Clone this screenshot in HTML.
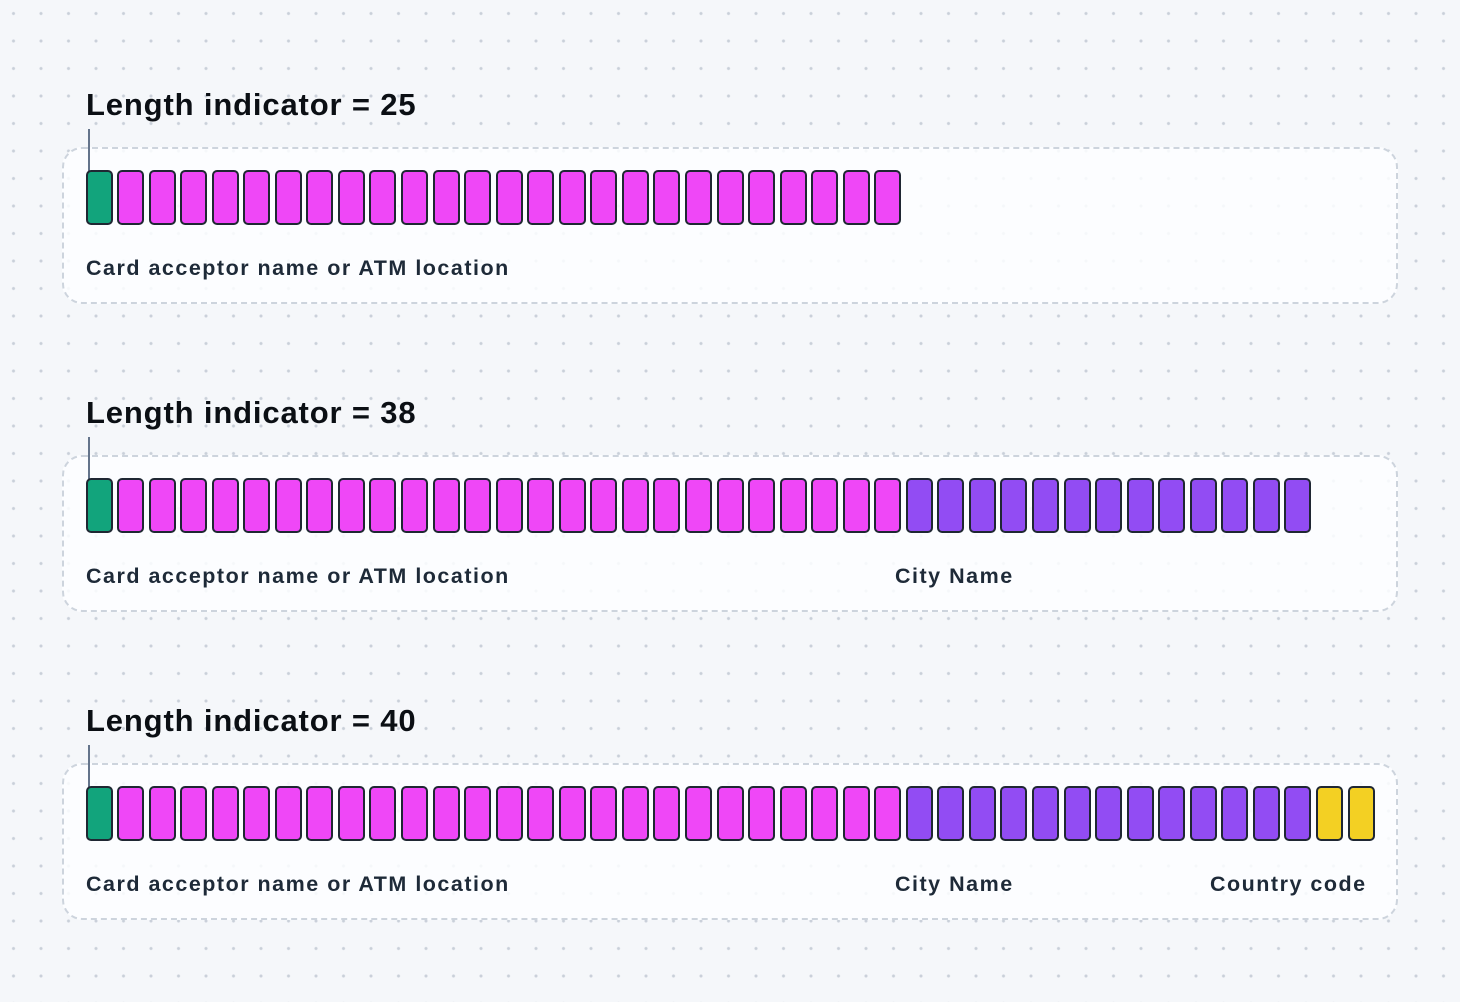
<!DOCTYPE html>
<html><head><meta charset="utf-8"><style>
html,body{margin:0;padding:0}
body{width:1460px;height:1002px;position:relative;overflow:hidden;background-color:#f5f7fa;
background-image:radial-gradient(circle,#c9d0d9 1.3px,transparent 1.8px);background-size:27.5px 27.5px;background-position:-0.25px -0.25px;
font-family:"Liberation Sans",sans-serif}
.box{position:absolute;left:62px;width:1336px;height:157px;border:2px dashed #cdd4dd;border-radius:20px;background:rgba(253,254,255,0.85);box-sizing:border-box}
.title{position:absolute;left:86px;font-size:31px;font-weight:bold;color:#0b0f14;letter-spacing:0.85px}
.lbl{position:absolute;font-size:21.5px;font-weight:bold;color:#1e2a38;letter-spacing:1.5px}
.tick{position:absolute;left:88px;width:2px;height:42px;background:#64748b}
.c{position:absolute;width:27px;height:55px;box-sizing:border-box;border:2px solid #1f2733;border-radius:5px}
</style></head><body>
<div id="root"></div>
<script>
var rows=[{y:0,n:[1,25,0,0]},{y:308,n:[1,25,13,0]},{y:616,n:[1,25,13,2]}];
var cols=['#12a47c','#ef47f7','#924cf3','#f3d023'];
var h='';
rows.forEach(function(r,ri){
 var y=r.y;
 h+='<div class="title" style="top:'+(87+y)+'px">Length indicator = '+[25,38,40][ri]+'</div>';
 h+='<div class="box" style="top:'+(147+y)+'px"></div>';
 h+='<div class="tick" style="top:'+(129+y)+'px"></div>';
 var k=0;
 r.n.forEach(function(cnt,ci){for(var i=0;i<cnt;i++){h+='<div class="c" style="left:'+(85.5+k*31.55).toFixed(2)+'px;top:'+(170+y)+'px;background:'+cols[ci]+'"></div>';k++;}});
 h+='<div class="lbl" style="left:86px;top:'+(256+y)+'px">Card acceptor name or ATM location</div>';
 if(ri>0)h+='<div class="lbl" style="left:895px;top:'+(256+y)+'px">City Name</div>';
 if(ri>1)h+='<div class="lbl" style="left:1210px;top:'+(256+y)+'px">Country code</div>';
});
document.getElementById('root').innerHTML=h;
</script>
</body></html>
